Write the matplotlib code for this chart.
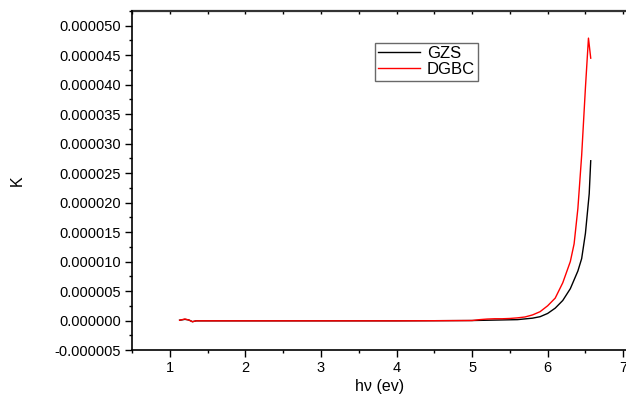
import matplotlib
matplotlib.use('Agg')
import matplotlib.pyplot as plt
from matplotlib.ticker import MultipleLocator, FormatStrFormatter
import numpy as np

plt.rcParams['font.family'] = ['Liberation Sans', 'DejaVu Sans']
plt.rcParams['axes.unicode_minus'] = False

# Photon energy (eV) and extinction coefficient K (in units of 1e-6)
hv_gzs = [1.13, 1.2, 1.25, 1.3, 1.35, 1.5, 2.0, 2.5, 3.0, 3.5, 4.0, 4.5, 5.0,
          5.2, 5.4, 5.6, 5.8, 5.9, 6.0, 6.1, 6.2, 6.3, 6.4, 6.45, 6.5, 6.55, 6.57]
k_gzs = [0.05, 0.2, 0.1, -0.2, -0.05, -0.05, -0.05, -0.05, -0.05, -0.05, -0.05, -0.03, 0.0,
         0.05, 0.1, 0.15, 0.4, 0.65, 1.2, 2.1, 3.4, 5.4, 8.4, 10.5, 14.8, 21.5, 27.1]

hv_dgbc = [1.13, 1.2, 1.25, 1.3, 1.35, 1.5, 2.0, 2.5, 3.0, 3.5, 4.0, 4.5, 5.0,
           5.1, 5.2, 5.3, 5.4, 5.5, 5.6, 5.7, 5.8, 5.9, 6.0, 6.1, 6.2, 6.3, 6.35,
           6.4, 6.45, 6.5, 6.54, 6.57]
k_dgbc = [0.05, 0.25, 0.1, -0.2, -0.05, -0.05, -0.05, -0.05, -0.05, -0.05, -0.05, -0.03, 0.0,
          0.15, 0.25, 0.3, 0.3, 0.35, 0.45, 0.6, 0.95, 1.5, 2.5, 3.8, 6.4, 10.0, 13.0,
          19.0, 28.0, 39.5, 47.9, 44.5]

fig = plt.figure(figsize=(6.26, 3.98), dpi=100)
ax = fig.add_axes([132 / 626, 48 / 398, 495 / 626, 339 / 398])

ax.plot(hv_gzs, np.array(k_gzs) * 1e-6, color='black', lw=1.0, label='GZS')
ax.plot(hv_dgbc, np.array(k_dgbc) * 1e-6, color='red', lw=1.0, label='DGBC')

ax.set_xlim(0.5, 7.05)
ax.set_ylim(-0.000005, 0.0000525)
ax.xaxis.set_major_locator(MultipleLocator(1))
ax.xaxis.set_minor_locator(MultipleLocator(0.5))
ax.yaxis.set_major_locator(MultipleLocator(0.000005))
ax.yaxis.set_minor_locator(MultipleLocator(0.0000025))
ax.yaxis.set_major_formatter(FormatStrFormatter('%.6f'))

ax.spines['right'].set_visible(False)
ax.spines['top'].set_visible(False)
for s in ['left', 'bottom']:
    ax.spines[s].set_linewidth(1.2)

ax.tick_params(axis='both', which='major', direction='out', length=5, width=1, labelsize=10.5, pad=3)
ax.tick_params(axis='both', which='minor', direction='out', length=2.5, width=1)

# top axis: small inward ticks, no labels
top = ax.secondary_xaxis('top')
top.xaxis.set_major_locator(MultipleLocator(0.5))
top.tick_params(direction='in', length=2, width=1, labeltop=False)
top.spines['top'].set_linewidth(1.6)
top.spines['top'].set_color('#333333')

ax.set_xlabel('h\u03bd (ev)', fontsize=11.5, labelpad=3)
ax.set_ylabel('K', fontsize=11.5)
ax.yaxis.set_label_coords(-0.216, 0.5)

leg = ax.legend(loc='upper left', bbox_to_anchor=(243 / 495, 1 - 32 / 339), fontsize=12,
                frameon=True, fancybox=False, borderpad=0.2, handlelength=2.5,
                handletextpad=0.4, labelspacing=0.05, borderaxespad=0)
leg.get_frame().set_edgecolor('#444444')
leg.get_frame().set_linewidth(1.0)

fig.savefig('out.png', dpi=100)
